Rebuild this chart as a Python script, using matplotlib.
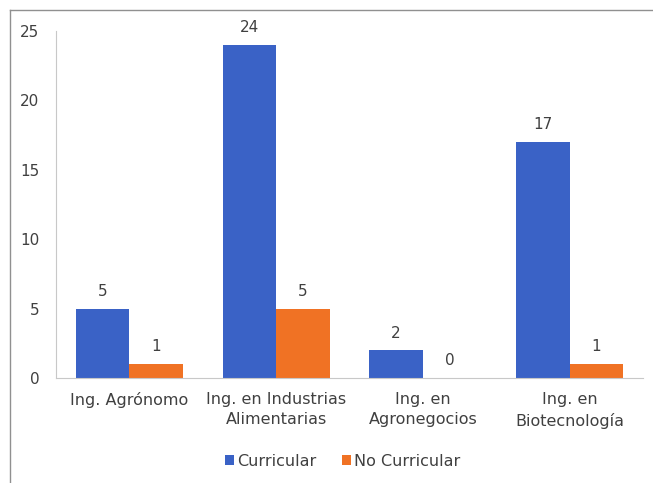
import matplotlib
matplotlib.use("Agg")
import matplotlib.pyplot as plt
from matplotlib.lines import Line2D
import numpy as np

# Datos del gráfico
carreras = ["Ing. Agrónomo", "Ing. en Industrias\nAlimentarias",
            "Ing. en\nAgronegocios", "Ing. en\nBiotecnología"]
curricular = [5, 24, 2, 17]
no_curricular = [1, 5, 0, 1]
series = ["Curricular", "No Curricular"]

azul = "#3A62C6"
naranja = "#F07224"
gris_texto = "#404040"

plt.rcParams['font.family'] = ['DejaVu Sans']

fig = plt.figure(figsize=(6.53, 4.83), dpi=100)
ax = fig.add_axes([0.0858, 0.2174, 0.8989, 0.7184])

x = np.arange(len(carreras))
w = 0.365
b1 = ax.bar(x - w / 2, curricular, w, color=azul, label=series[0])
b2 = ax.bar(x + w / 2, no_curricular, w, color=naranja, label=series[1])

# Etiquetas de valores
for barras in (b1, b2):
    for rect in barras:
        h = rect.get_height()
        ax.annotate(str(int(h)), (rect.get_x() + rect.get_width() / 2, h),
                    xytext=(0, 7), textcoords="offset points",
                    ha="center", va="bottom", fontsize=11, color=gris_texto)

ax.set_xlim(-0.5, 3.5)
ax.set_ylim(0, 25)
ax.set_yticks([0, 5, 10, 15, 20, 25])
ax.set_xticks(x)
ax.set_xticklabels(carreras, fontsize=11.5, color=gris_texto, linespacing=1.45)
ax.tick_params(axis="y", length=0, pad=12, labelsize=11, labelcolor=gris_texto)
ax.tick_params(axis="x", length=0, pad=10)

for lado in ("top", "right"):
    ax.spines[lado].set_visible(False)
ax.spines["left"].set_color("#C8C8C8")
ax.spines["bottom"].set_color("#C8C8C8")

leg = fig.legend(handles=[b1, b2], labels=series, loc="center",
                 bbox_to_anchor=(0.525, 0.045), ncol=2, frameon=False,
                 fontsize=11.5, handlelength=0.55, handleheight=0.55,
                 handletextpad=0.2, columnspacing=1.6)
for t in leg.get_texts():
    t.set_color(gris_texto)

# Marco de la figura (izquierda y arriba)
fig.add_artist(Line2D([0.0153, 0.0153], [0, 0.979], transform=fig.transFigure,
                      color="#909090", lw=1))
fig.add_artist(Line2D([0.0153, 1], [0.979, 0.979], transform=fig.transFigure,
                      color="#909090", lw=1))

fig.savefig("out.png", dpi=100)
